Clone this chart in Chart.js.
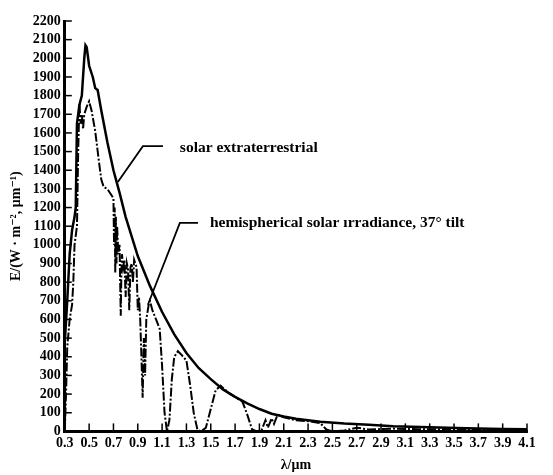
<!DOCTYPE html>
<html><head><meta charset="utf-8">
<script src="https://cdn.jsdelivr.net/npm/chart.js@4/dist/chart.umd.min.js"></script>
<style>html,body{margin:0;padding:0;background:#fff}#wrap{width:553px;height:475px}</style>
</head><body><div id="wrap"><canvas id="c"></canvas></div>
<script>
const xTicks = [0.3,0.5,0.7,0.9,1.1,1.3,1.5,1.7,1.9,2.1,2.3,2.5,2.7,2.9,3.1,3.3,3.5,3.7,3.9,4.1];
const yTicks = [0,100,200,300,400,500,600,700,800,900,1000,1100,1200,1300,1400,1500,1600,1700,1800,1900,2000,2100,2200];
const extL = [0.30,0.32,0.34,0.36,0.38,0.39,0.40,0.42,0.44,0.46,0.47,0.48,0.50,0.53,0.55,0.57,0.60,0.65,0.70,0.75,0.80,0.90,1.00,1.10,1.20,1.30,1.40,1.50,1.60,1.70,1.80,1.90,2.00,2.10,2.20,2.40,2.60,2.80,3.00,3.30,3.60,3.90,4.10];
const extE = [480,700,950,1080,1150,1200,1650,1750,1800,2000,2070,2060,1960,1900,1840,1830,1720,1550,1400,1280,1150,940,780,640,520,420,340,280,225,185,150,120,95,80,68,52,42,35,28,22,17,13,11];
const hemiL = [0.30,0.31,0.32,0.34,0.36,0.37,0.38,0.39,0.40,0.41,0.42,0.43,0.44,0.45,0.46,0.48,0.50,0.52,0.55,0.58,0.60,0.62,0.65,0.68,0.70,0.705,0.71,0.715,0.72,0.725,0.73,0.74,0.75,0.76,0.765,0.77,0.78,0.79,0.80,0.81,0.82,0.83,0.84,0.85,0.86,0.87,0.88,0.89,0.90,0.91,0.92,0.93,0.94,0.95,0.96,0.97,0.99,1.00,1.02,1.05,1.08,1.10,1.12,1.14,1.16,1.18,1.20,1.23,1.26,1.30,1.33,1.36,1.39,1.42,1.46,1.50,1.54,1.58,1.65,1.72,1.76,1.80,1.84,1.88,1.92,1.95,1.97,2.00,2.02,2.05,2.10,2.20,2.30,2.40,2.45,2.50,2.60,2.70,2.80,3.00,3.20,3.50,3.80,4.10];
const hemiE = [0,200,450,600,680,800,1000,1050,1100,1500,1760,1650,1700,1620,1700,1740,1770,1720,1610,1450,1350,1310,1300,1270,1250,1000,1200,850,1150,900,1100,950,1000,620,850,950,880,920,720,900,870,650,880,900,800,920,900,880,650,720,600,400,180,500,300,600,680,700,650,600,550,350,100,0,60,280,400,430,410,380,250,100,10,0,20,120,220,245,205,175,160,90,10,0,10,60,20,70,40,90,75,60,55,45,10,0,5,20,10,15,12,12,10,8];
const seriesNames = ["solar extraterrestrial", "hemispherical solar ırradiance, 37° tilt"];
// annotation leaders in data units [λ, E]
const leader1 = [[1.107,1529],[0.942,1529],[0.736,1337]];
const leader2 = [[1.395,1118],[1.246,1118],[0.983,679]];
const label1At = [1.246,1519];
const label2At = [1.493,1118];

const FONT = "'Liberation Serif', 'DejaVu Serif', serif";

const inwardTicks = {
  id: 'inwardTicks',
  afterDraw(chart) {
    const ctx = chart.ctx, xs = chart.scales.x, ys = chart.scales.y, a = chart.chartArea;
    ctx.save();
    ctx.strokeStyle = '#000'; ctx.lineWidth = 1.5;
    yTicks.forEach(v => { const y = ys.getPixelForValue(v); ctx.beginPath(); ctx.moveTo(a.left, y); ctx.lineTo(a.left + 7, y); ctx.stroke(); });
    xTicks.forEach(v => { const x = xs.getPixelForValue(v); ctx.beginPath(); ctx.moveTo(x, a.bottom); ctx.lineTo(x, a.bottom - 8); ctx.stroke(); });
    ctx.lineWidth = 1.8;
    [leader1, leader2].forEach(L => {
      ctx.beginPath();
      L.forEach((p, i) => { const x = xs.getPixelForValue(p[0]), y = ys.getPixelForValue(p[1]); i ? ctx.lineTo(x, y) : ctx.moveTo(x, y); });
      ctx.stroke();
    });
    ctx.fillStyle = '#000';
    ctx.font = 'bold 15.5px ' + FONT;
    ctx.textAlign = 'left'; ctx.textBaseline = 'middle';
    ctx.fillText(seriesNames[0], xs.getPixelForValue(label1At[0]), ys.getPixelForValue(label1At[1]));
    ctx.fillText(seriesNames[1], xs.getPixelForValue(label2At[0]), ys.getPixelForValue(label2At[1]));
    ctx.restore();
  }
};

new Chart(document.getElementById('c'), {
  type: 'line',
  data: {
    datasets: [
      { label: seriesNames[0], data: extL.map((x, i) => ({x, y: extE[i]})), borderColor: '#000', borderWidth: 2.5, pointRadius: 0, tension: 0, fill: false },
      { label: seriesNames[1], data: hemiL.map((x, i) => ({x, y: hemiE[i]})), borderColor: '#000', borderWidth: 2, borderDash: [9, 2, 2, 2], pointRadius: 0, tension: 0, fill: false }
    ]
  },
  options: {
    responsive: true, maintainAspectRatio: false, animation: false,
    layout: { padding: { top: 21, right: 26, left: 8, bottom: 1 } },
    plugins: { legend: { display: false }, tooltip: { enabled: false } },
    scales: {
      x: {
        type: 'linear', min: 0.3, max: 4.1,
        afterBuildTicks: s => { s.ticks = xTicks.map(v => ({value: v})); },
        ticks: { autoSkip: false, maxRotation: 0, color: '#000', padding: 4, font: { family: FONT, weight: 'bold', size: 14 }, callback: v => String(Math.round(v * 10) / 10) },
        grid: { display: false, drawTicks: false },
        border: { display: true, color: '#000', width: 3 },
        title: { display: true, text: 'λ/μm', color: '#000', padding: { top: 1, bottom: 0 }, font: { family: FONT, weight: 'bold', size: 14 } }
      },
      y: {
        min: 0, max: 2200,
        afterBuildTicks: s => { s.ticks = yTicks.map(v => ({value: v})); },
        ticks: { autoSkip: false, color: '#000', padding: 4, font: { family: FONT, weight: 'bold', size: 14 }, callback: v => String(v) },
        grid: { display: false, drawTicks: false },
        border: { display: true, color: '#000', width: 3 },
        title: { display: true, text: 'E/(W · m⁻², μm⁻¹)', color: '#000', padding: { top: 0, bottom: 4 }, font: { family: FONT, weight: 'bold', size: 14 } }
      }
    }
  },
  plugins: [inwardTicks]
});
</script></body></html>
